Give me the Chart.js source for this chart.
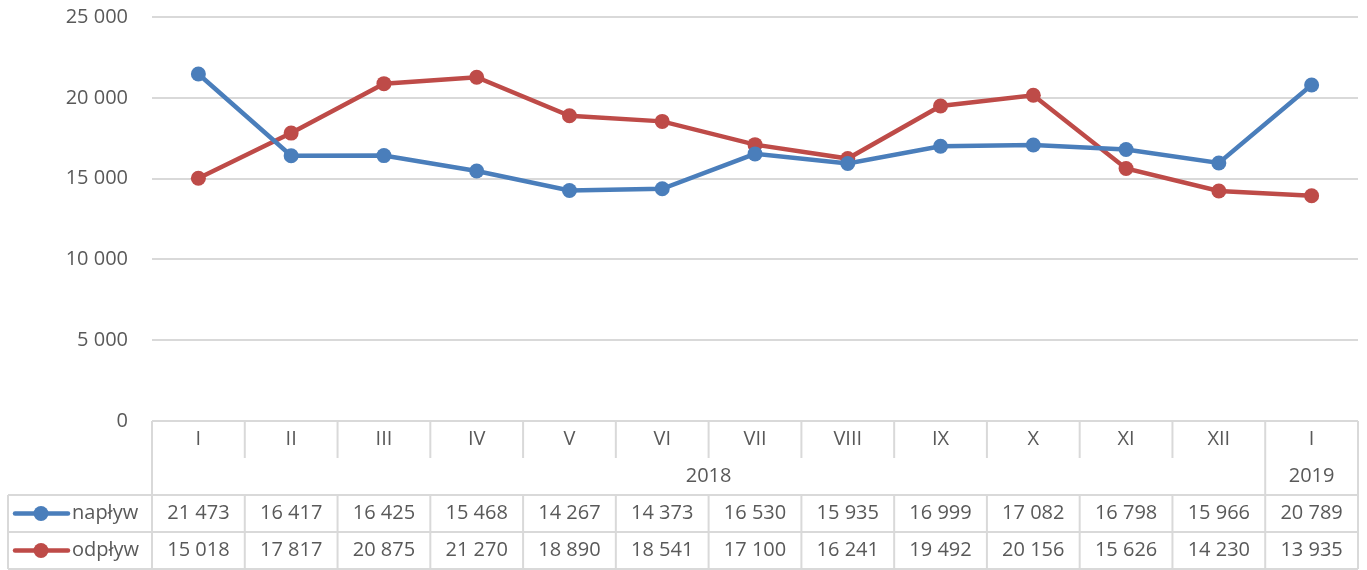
<!DOCTYPE html>
<html>
<head>
<meta charset="utf-8">
<script src="https://cdn.jsdelivr.net/npm/chart.js@4.4.1/dist/chart.umd.min.js"></script>
<style>
html,body{margin:0;padding:0;background:#fff;}
#wrap{width:1367px;height:570px;position:relative;}
</style>
</head>
<body>
<div id="wrap"><canvas id="c" width="1367" height="570"></canvas></div>
<script>
const months = ['I','II','III','IV','V','VI','VII','VIII','IX','X','XI','XII','I'];
const years = ['2018','2019'];
const yearSpans = [12, 1];
const naplyw = [21473,16417,16425,15468,14267,14373,16530,15935,16999,17082,16798,15966,20789];
const odplyw = [15018,17817,20875,21270,18890,18541,17100,16241,19492,20156,15626,14230,13935];
const seriesNames = ['napływ','odpływ'];
const yTicks = [0,5000,10000,15000,20000,25000];

const BLUE = '#4A7EBB';
const RED = '#BE4B48';
const TXT = '#595959';
const LINE = '#d9d9d9';
const FONT = '"Open Sans", sans-serif';

function fmt(n){ return String(n).replace(/\B(?=(\d{3})+(?!\d))/g, '\u00a0'); }

const tablePlugin = {
  id: 'dataTable',
  afterDraw(chart){
    const ctx = chart.ctx;
    const xs = chart.scales.x;
    const area = chart.chartArea;
    const n = months.length;
    const centers = months.map((m,i)=>xs.getPixelForValue(i));
    const bounds = [area.left];
    for(let i=0;i<n-1;i++) bounds.push((centers[i]+centers[i+1])/2);
    bounds.push(area.right);
    const rowH = 37;
    const r0 = area.bottom, r1 = r0+rowH, r2 = r1+rowH, r3 = r2+rowH, r4 = r3+rowH;
    const legL = 8;
    ctx.save();
    ctx.strokeStyle = LINE;
    ctx.lineWidth = 2;
    const seg=(x1,y1,x2,y2)=>{ctx.beginPath();ctx.moveTo(x1,y1);ctx.lineTo(x2,y2);ctx.stroke();};
    seg(area.left, r0, area.right, r0);
    for(let i=0;i<=n;i++) seg(bounds[i], r0, bounds[i], r1);
    let acc=0;
    const yearBounds=[0];
    yearSpans.forEach(s=>{acc+=s; yearBounds.push(acc);});
    yearBounds.forEach(b=>seg(bounds[b], r1, bounds[b], r2));
    seg(legL, r2, area.right, r2);
    seg(legL, r3, area.right, r3);
    seg(legL, r4, area.right, r4);
    seg(legL, r2, legL, r4);
    for(let i=0;i<=n;i++) seg(bounds[i], r2, bounds[i], r4);

    ctx.fillStyle = TXT;
    ctx.font = '20px ' + FONT;
    ctx.textAlign = 'center';
    ctx.textBaseline = 'middle';
    months.forEach((m,i)=>ctx.fillText(m, centers[i], (r0+r1)/2));
    years.forEach((y,k)=>{
      const a = bounds[yearBounds[k]], b = bounds[yearBounds[k+1]];
      ctx.fillText(y, (a+b)/2, (r1+r2)/2);
    });
    naplyw.forEach((v,i)=>ctx.fillText(fmt(v), centers[i], (r2+r3)/2));
    odplyw.forEach((v,i)=>ctx.fillText(fmt(v), centers[i], (r3+r4)/2));

    const keys = [[BLUE,(r2+r3)/2,seriesNames[0]],[RED,(r3+r4)/2,seriesNames[1]]];
    keys.forEach(([col,y,name])=>{
      ctx.strokeStyle = col; ctx.lineWidth = 4.5; ctx.lineCap='round';
      seg(15,y,68,y);
      ctx.fillStyle = col;
      ctx.beginPath(); ctx.arc(41,y,7.5,0,Math.PI*2); ctx.fill();
      ctx.fillStyle = TXT; ctx.textAlign='left';
      ctx.fillText(name, 72, y);
    });
    ctx.restore();
  }
};

new Chart(document.getElementById('c'), {
  type: 'line',
  data: {
    labels: months,
    datasets: [
      {label: seriesNames[0], data: naplyw, borderColor: BLUE, backgroundColor: BLUE, borderWidth: 4.5, pointRadius: 7.5, pointBackgroundColor: BLUE, pointBorderWidth: 0, tension: 0},
      {label: seriesNames[1], data: odplyw, borderColor: RED, backgroundColor: RED, borderWidth: 4.5, pointRadius: 7.5, pointBackgroundColor: RED, pointBorderWidth: 0, tension: 0}
    ]
  },
  options: {
    responsive: false,
    animation: false,
    devicePixelRatio: 1,
    layout: {padding: {top: 17, bottom: 149, right: 9, left: 0}},
    plugins: {legend: {display: false}, tooltip: {enabled: false}},
    scales: {
      x: {display: false, offset: true},
      y: {
        min: 0, max: 25000,
        afterFit(s){ s.width = 152; s.paddingTop = 0; s.paddingBottom = 0; },
        afterBuildTicks(s){ s.ticks = yTicks.map(v=>({value:v})); },
        border: {display: false},
        grid: {color: LINE, lineWidth: 2, drawTicks: false},
        ticks: {color: TXT, font: {family: FONT, size: 20}, padding: 24, callback: v => fmt(v)}
      }
    }
  },
  plugins: [tablePlugin]
});
</script>
</body>
</html>
